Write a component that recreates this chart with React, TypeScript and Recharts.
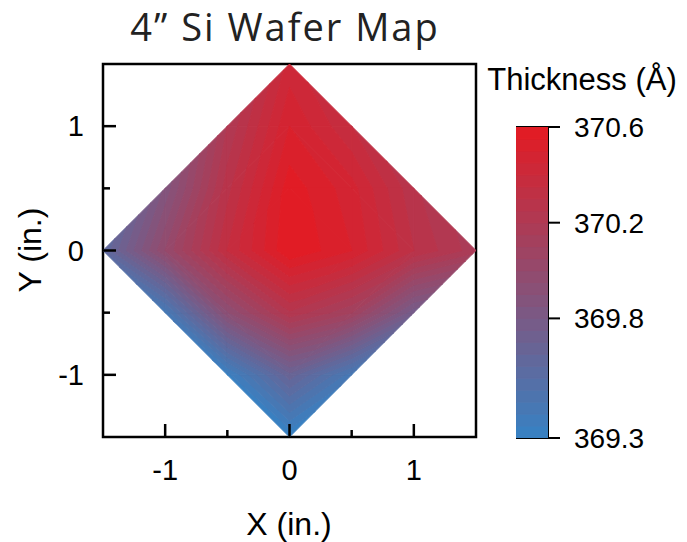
import React from 'react';
import { ScatterChart, Scatter, XAxis, YAxis, ReferenceArea } from 'recharts';

// thickness (Å) measured on a 0.5 in. grid inside the wafer diamond, one row per y (top to bottom)
const rowY = [1.5, 1, 0.5, 0, -0.5, -1, -1.5];
const thickY15 = [370.42];
const thickY10 = [370.2, 370.5, 370.35];
const thickY05 = [369.86, 370.28, 370.58, 370.47, 370.26];
const thickY00 = [369.6, 370.0, 370.35, 370.6, 370.5, 370.3, 370.17];
const thickYm05 = [369.41, 369.94, 370.24, 370.1, 369.76];
const thickYm10 = [369.33, 369.68, 369.42];
const thickYm15 = [369.3];
const thicknessRows = [thickY15, thickY10, thickY05, thickY00, thickYm05, thickYm10, thickYm15];

// contour levels of the colour scale
const levels = [
  369.3, 369.35, 369.4, 369.45, 369.5, 369.55, 369.6, 369.65, 369.7, 369.75,
  369.8, 369.85, 369.9, 369.95, 370.0, 370.05, 370.1, 370.15, 370.2, 370.25,
  370.3, 370.35, 370.4, 370.45, 370.5, 370.55, 370.6,
];
const colorbarTicks = [369.3, 369.8, 370.2, 370.6];
const axisTicks = [-1, -0.5, 0, 0.5, 1];

const GRID_STEP = 0.5;
const LOW = [54, 130, 196];
const HIGH = [228, 26, 34];
const FONT = '"Liberation Sans", Arial, sans-serif';

const colorFor = (v: number) => {
  const t = Math.min(1, Math.max(0, (v - levels[0]) / (levels[levels.length - 1] - levels[0])));
  const c = LOW.map((lo, i) => Math.round(lo + (HIGH[i] - lo) * t));
  return `rgb(${c[0]},${c[1]},${c[2]})`;
};

type P = { x: number; y: number; v: number };
type Piece = { n: number; color: string };

const key = (x: number, y: number) => `${x.toFixed(2)},${y.toFixed(2)}`;
const nodes = new Map<string, number>();
rowY.forEach((y, r) => {
  const vals = thicknessRows[r];
  vals.forEach((v, i) => nodes.set(key((i - (vals.length - 1) / 2) * GRID_STEP, y), v));
});

// split grid cells into triangles, diagonal parallel to the wafer edge of each quadrant
const triangles: P[][] = [];
for (let i = -3; i < 3; i++) {
  for (let j = -3; j < 3; j++) {
    const x0 = i * GRID_STEP, y0 = j * GRID_STEP, x1 = x0 + GRID_STEP, y1 = y0 + GRID_STEP;
    const anti = (x0 + GRID_STEP / 2) * (y0 + GRID_STEP / 2) > 0;
    const corners = anti
      ? [[[x0, y0], [x1, y0], [x0, y1]], [[x1, y0], [x1, y1], [x0, y1]]]
      : [[[x0, y0], [x1, y0], [x1, y1]], [[x0, y0], [x1, y1], [x0, y1]]];
    corners.forEach((c) => {
      const pts = c.map(([x, y]) => ({ x, y, v: nodes.get(key(x, y)) as number }));
      if (pts.every((p) => p.v !== undefined)) triangles.push(pts);
    });
  }
}

const clip = (poly: P[], lv: number, above: boolean) => {
  const out: P[] = [];
  poly.forEach((a, k) => {
    const b = poly[(k + 1) % poly.length];
    const ina = above ? a.v >= lv : a.v <= lv;
    const inb = above ? b.v >= lv : b.v <= lv;
    if (ina) out.push(a);
    if (ina !== inb) {
      const t = (lv - a.v) / (b.v - a.v);
      out.push({ x: a.x + t * (b.x - a.x), y: a.y + t * (b.y - a.y), v: lv });
    }
  });
  return out;
};

// filled contour bands of the map
const mapPoints: P[] = [];
const mapPieces: Piece[] = [];
levels.slice(0, -1).forEach((lo, k) => {
  const hi = levels[k + 1];
  const color = colorFor((lo + hi) / 2);
  triangles.forEach((tri) => {
    const poly = clip(clip(tri, lo, true), hi, false);
    if (poly.length >= 3) {
      mapPieces.push({ n: poly.length, color });
      mapPoints.push(...poly);
    }
  });
});

// colour scale cells
const barPoints: P[] = [];
const barPieces: Piece[] = [];
levels.slice(0, -1).forEach((lo, k) => {
  const hi = levels[k + 1];
  barPieces.push({ n: 4, color: colorFor((lo + hi) / 2) });
  barPoints.push({ x: 0, y: lo, v: lo }, { x: 1, y: lo, v: lo }, { x: 1, y: hi, v: hi }, { x: 0, y: hi, v: hi });
});

const polygonLayer = (pieces: Piece[]) => (props: any) => {
  const pts = (props.points || []) as { x: number; y: number }[];
  let off = 0;
  return (
    <g>
      {pieces.map((pc, i) => {
        const seg = pts.slice(off, off + pc.n);
        off += pc.n;
        return (
          <polygon
            key={i}
            points={seg.map((p) => `${p.x},${p.y}`).join(' ')}
            fill={pc.color}
            stroke={pc.color}
            strokeWidth={1}
            strokeLinejoin="round"
          />
        );
      })}
    </g>
  );
};

const XTick = (props: any) => {
  const { x, y, payload } = props;
  const major = Number.isInteger(payload.value);
  return (
    <g>
      <line x1={x} x2={x} y1={y} y2={y - (major ? 13 : 7)} stroke="#000" strokeWidth={2.5} />
      {major && (
        <text x={x} y={y + 43} textAnchor="middle" fontSize={29} fontFamily={FONT} fill="#000">
          {payload.value}
        </text>
      )}
    </g>
  );
};

const YTick = (props: any) => {
  const { x, y, payload } = props;
  const major = Number.isInteger(payload.value);
  return (
    <g>
      <line x1={x} x2={x + (major ? 13 : 7)} y1={y} y2={y} stroke="#000" strokeWidth={2.5} />
      {major && (
        <text x={x - 19} y={y + 10} textAnchor="end" fontSize={29} fontFamily={FONT} fill="#000">
          {payload.value}
        </text>
      )}
    </g>
  );
};

export default function App() {
  return (
    <div style={{ position: 'absolute', left: 0, top: 0, width: 687, height: 542, background: '#fff' }}>
      <ScatterChart
        width={687}
        height={542}
        margin={{ top: 64, right: 211, bottom: 0, left: 0 }}
        style={{ position: 'absolute', left: 0, top: 0 }}
      >
        <XAxis
          type="number"
          dataKey="x"
          domain={[-1.5, 1.5]}
          ticks={axisTicks}
          interval={0}
          allowDataOverflow
          axisLine={false}
          tickLine={false}
          tickSize={0}
          tickMargin={0}
          height={105}
          tick={<XTick />}
        />
        <YAxis
          type="number"
          dataKey="y"
          domain={[-1.5, 1.5]}
          ticks={axisTicks}
          interval={0}
          allowDataOverflow
          axisLine={false}
          tickLine={false}
          tickSize={0}
          tickMargin={0}
          width={103}
          tick={<YTick />}
        />
        <Scatter
          data={mapPoints}
          fill="#d01c28"
          line={polygonLayer(mapPieces)}
          lineType="joint"
          shape={() => <g />}
          isAnimationActive={false}
        />
        <ReferenceArea x1={-1.5} x2={1.5} y1={-1.5} y2={1.5} fill="none" stroke="#000" strokeWidth={2.5} />
      </ScatterChart>

      <ScatterChart
        width={171}
        height={542}
        margin={{ top: 127, right: 16, bottom: 104, left: 0 }}
        style={{ position: 'absolute', left: 516, top: 0 }}
      >
        <XAxis type="number" dataKey="x" domain={[0, 1]} allowDataOverflow hide />
        <YAxis
          type="number"
          dataKey="y"
          orientation="right"
          domain={[levels[0], levels[levels.length - 1]]}
          ticks={colorbarTicks}
          interval={0}
          allowDataOverflow
          width={123}
          axisLine={false}
          tickSize={12}
          tickMargin={14}
          tickLine={{ stroke: '#000', strokeWidth: 2 }}
          tick={{ fontSize: 28, fill: '#000', fontFamily: FONT }}
        />
        <Scatter
          data={barPoints}
          fill="#d01c28"
          line={polygonLayer(barPieces)}
          lineType="joint"
          shape={() => <g />}
          isAnimationActive={false}
        />
        <ReferenceArea x1={0} x2={1} y1={levels[0]} y2={levels[levels.length - 1]} fill="none" stroke="#000" strokeWidth={2} />
      </ScatterChart>

      <svg width={687} height={542} style={{ position: 'absolute', left: 0, top: 0, pointerEvents: 'none' }}>
        <text x={285} y={41} textAnchor="middle" fontSize={38} letterSpacing={2} fontFamily='"Open Sans", "Noto Sans", sans-serif' fill="#222">
          {'4\u201D Si Wafer Map'}
        </text>
        <text x={289} y={535} textAnchor="middle" fontSize={32} fontFamily={FONT} fill="#000">
          X (in.)
        </text>
        <text x={41} y={250} textAnchor="middle" fontSize={32} fontFamily={FONT} fill="#000" transform="rotate(-90 41 250)">
          Y (in.)
        </text>
        <text x={582} y={90} textAnchor="middle" fontSize={31} fontFamily={FONT} fill="#000">
          Thickness (Å)
        </text>
      </svg>
    </div>
  );
}
